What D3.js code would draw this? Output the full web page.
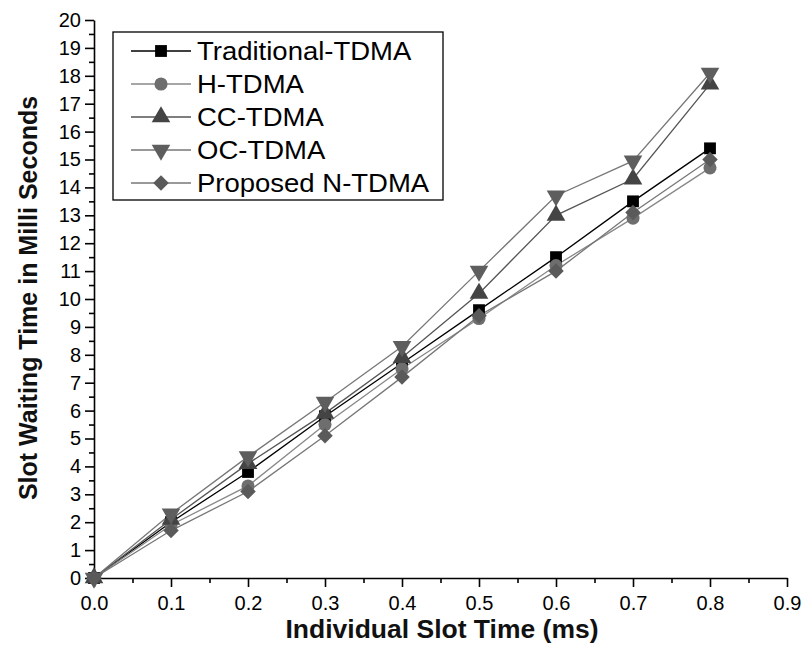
<!DOCTYPE html>
<html>
<head>
<meta charset="utf-8" />
<title>Slot Waiting Time</title>
<style>
    body { margin: 0; background: #fff; }
    svg { display: block; font-family: "Liberation Sans", Arial, sans-serif; }
    .axis path, .axis line { stroke: #000; stroke-width: 1.6px; }
    .axis text { fill: #000; font-size: 20px; font-family: "Liberation Sans", Arial, sans-serif; }
    .title { font-weight: bold; font-size: 25px; fill: #111; }
    .legtext { font-size: 25px; fill: #000; }
</style>
<script src="https://d3js.org/d3.v7.min.js"></script>
</head>
<body>
<div id="chart"></div>
<script>
var slotTimes = [0, 0.1, 0.2, 0.3, 0.4, 0.5, 0.6, 0.7, 0.8];
var traditional = [0, 2.0, 3.8, 5.8, 7.7, 9.6, 11.5, 13.5, 15.4];
var hTdma = [0, 1.9, 3.3, 5.5, 7.5, 9.3, 11.2, 12.9, 14.7];
var ccTdma = [0, 2.1, 4.1, 5.9, 7.9, 10.2, 13.0, 14.3, 17.7];
var ocTdma = [0, 2.3, 4.35, 6.3, 8.3, 11.0, 13.7, 14.95, 18.1];
var nTdma = [0, 1.7, 3.1, 5.1, 7.2, 9.4, 11.0, 13.1, 15.0];
var seriesNames = ["Traditional-TDMA", "H-TDMA", "CC-TDMA", "OC-TDMA", "Proposed N-TDMA"];
var xTicks = [0, 0.1, 0.2, 0.3, 0.4, 0.5, 0.6, 0.7, 0.8, 0.9];

var series = [
    { name: seriesNames[0], values: traditional, line: "#000", fill: "#000", shape: d3.symbolSquare, size: 140, rot: 0 },
    { name: seriesNames[1], values: hTdma, line: "#888", fill: "#6e6e6e", shape: d3.symbolCircle, size: 135, rot: 0 },
    { name: seriesNames[2], values: ccTdma, line: "#555", fill: "#444", shape: d3.symbolTriangle, size: 150, rot: 0 },
    { name: seriesNames[3], values: ocTdma, line: "#777", fill: "#5e5e5e", shape: d3.symbolTriangle, size: 150, rot: 180 },
    { name: seriesNames[4], values: nTdma, line: "#777", fill: "#5a5a5a", shape: d3.symbolSquare, size: 120, rot: 45 }
];

var width = 806, height = 666;
var plotLeft = 94, plotRight = 787, plotTop = 20, plotBottom = 578;

var svg = d3.select("#chart").append("svg")
    .attr("width", width).attr("height", height);

var x = d3.scaleLinear().domain([0, 0.9]).range([plotLeft, plotRight]);
var y = d3.scaleLinear().domain([0, 20]).range([plotBottom, plotTop]);

// minor ticks
svg.append("g").attr("class", "axis")
    .attr("transform", "translate(0," + plotBottom + ")")
    .call(d3.axisBottom(x).tickValues(d3.range(0.05, 0.9, 0.1)).tickSize(5).tickFormat(""))
    .select(".domain").remove();
svg.append("g").attr("class", "axis")
    .attr("transform", "translate(" + plotLeft + ",0)")
    .call(d3.axisLeft(y).tickValues(d3.range(0.5, 20, 1)).tickSize(5).tickFormat(""))
    .select(".domain").remove();

svg.append("g").attr("class", "axis")
    .attr("transform", "translate(0," + plotBottom + ")")
    .call(d3.axisBottom(x).tickValues(xTicks).tickSize(9).tickSizeOuter(0).tickPadding(9).tickFormat(d3.format(".1f")));

svg.append("g").attr("class", "axis")
    .attr("transform", "translate(" + plotLeft + ",0)")
    .call(d3.axisLeft(y).ticks(20).tickSize(9).tickSizeOuter(0).tickPadding(4));

var line = d3.line()
    .x(function (d, i) { return x(slotTimes[i]); })
    .y(function (d) { return y(d); });

series.forEach(function (s) {
    svg.append("path")
        .datum(s.values)
        .attr("fill", "none")
        .attr("stroke", s.line)
        .attr("stroke-width", 1.3)
        .attr("d", line);
});

series.forEach(function (s) {
    svg.selectAll(null)
        .data(s.values)
        .enter()
        .append("path")
        .attr("d", d3.symbol().type(s.shape).size(s.size))
        .attr("fill", s.fill)
        .attr("transform", function (d, i) {
            return "translate(" + x(slotTimes[i]) + "," + y(d) + ") rotate(" + s.rot + ")";
        });
});

// legend
var legend = svg.append("g").attr("transform", "translate(113,32)");
legend.append("rect")
    .attr("width", 330).attr("height", 168)
    .attr("fill", "#fff").attr("stroke", "#000").attr("stroke-width", 1.3);

series.forEach(function (s, i) {
    var gy = 19 + i * 33;
    legend.append("line")
        .attr("x1", 18).attr("x2", 78).attr("y1", gy).attr("y2", gy)
        .attr("stroke", s.line).attr("stroke-width", 1.3);
    legend.append("path")
        .attr("d", d3.symbol().type(s.shape).size(s.size))
        .attr("fill", s.fill)
        .attr("transform", "translate(48," + gy + ") rotate(" + s.rot + ")");
    legend.append("text")
        .attr("class", "legtext")
        .attr("transform", "translate(84," + (gy + 9) + ") scale(1.1,1)")
        .text(s.name);
});

svg.append("text")
    .attr("class", "title")
    .attr("transform", "translate(442,638) scale(1.06,1)")
    .attr("text-anchor", "middle")
    .text("Individual Slot Time (ms)");

svg.append("text")
    .attr("class", "title")
    .attr("transform", "translate(37,298) rotate(-90)")
    .attr("text-anchor", "middle")
    .text("Slot Waiting Time in Milli Seconds");
</script>
</body>
</html>
